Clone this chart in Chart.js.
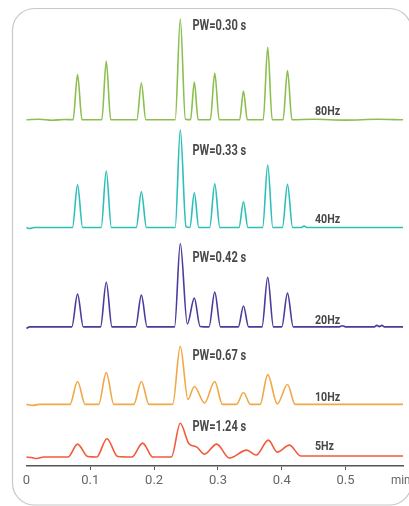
<!DOCTYPE html>
<html>
<head>
<meta charset="utf-8">
<script src="https://cdn.jsdelivr.net/npm/chart.js@4.4.1/dist/chart.umd.min.js"></script>
<style>
  html, body { margin: 0; padding: 0; background: #fff; }
  canvas { display: block; }
</style>
</head>
<body>
<canvas id="cromatograma" width="409" height="506"></canvas>
<script>
    // DADOS - tempo (min) e sinal acima da linha de base
    const freqLabels = ['80Hz', '40Hz', '20Hz', '10Hz', '5Hz']
    const pwLabels = ['PW=0.30 s', 'PW=0.33 s', 'PW=0.42 s', 'PW=0.67 s', 'PW=1.24 s']
    const baselines = [348.5, 240, 140, 62, 9]
    const xTicks = [0, 0.1, 0.2, 0.3, 0.4, 0.5]

    const t80 = [0, 0.02, 0.04, 0.06, 0.073, 0.080, 0.087, 0.118, 0.125, 0.132, 0.173, 0.180, 0.187, 0.233, 0.241, 0.249, 0.257, 0.263, 0.269, 0.288, 0.295, 0.302, 0.334, 0.340, 0.346, 0.371, 0.378, 0.385, 0.402, 0.409, 0.416, 0.45, 0.5, 0.55, 0.59]
    const y80 = [0, 0.5, -0.5, 0.3, 0, 45.5, 0, 0, 59, 0, 0, 37, 0, 0, 101.5, 0.5, 0, 38, 0, 0, 47, 0, 0, 29, 0, 0, 73, 0, 0, 49.5, 0, 0.5, -0.3, 0.5, 0]

    const t40 = [0, 0.005, 0.012, 0.072, 0.080, 0.088, 0.117, 0.125, 0.133, 0.172, 0.180, 0.188, 0.233, 0.241, 0.250, 0.256, 0.263, 0.270, 0.287, 0.295, 0.303, 0.333, 0.340, 0.347, 0.370, 0.378, 0.386, 0.401, 0.409, 0.417, 0.430, 0.435, 0.440, 0.59]
    const y40 = [0, -1, 0, 0, 43, 0, 0, 57, 0, 0, 36, 0, 0, 98.5, 1, 0, 35, 0, 0, 44, 0, 0, 26, 0, 0, 63, 0, 0, 43.5, 0, 0, 1.5, 0, 0]

    const t20 = [0, 0.005, 0.012, 0.071, 0.080, 0.089, 0.116, 0.125, 0.134, 0.171, 0.180, 0.189, 0.232, 0.241, 0.252, 0.263, 0.272, 0.286, 0.295, 0.304, 0.332, 0.340, 0.348, 0.369, 0.378, 0.387, 0.400, 0.409, 0.418, 0.490, 0.495, 0.500, 0.545, 0.549, 0.553, 0.557, 0.561, 0.59]
    const y20 = [-1.5, 0, 0, 0, 33, 0, 0, 45, 0, 0, 32, 0, 0, 84, 3, 29, 0.5, 0, 35, 0, 0, 21, 0, 0, 50, 0, 0, 34, 0, 0, 1.2, 0, 0, 1.5, 0.3, 1.5, 0, 0]

    const t10 = [0, 0.010, 0.020, 0.068, 0.080, 0.092, 0.113, 0.125, 0.137, 0.168, 0.180, 0.192, 0.229, 0.241, 0.253, 0.263, 0.279, 0.295, 0.307, 0.329, 0.340, 0.351, 0.366, 0.378, 0.393, 0.409, 0.421, 0.59]
    const y10 = [0, -1, 0, 0, 23, 0, 0, 32, 0, 0, 23, 0, 0, 58.4, 5, 18, 1.5, 23, 0, 0, 12, 0, 0, 30, 0.5, 20, 0, 0]

    const t5 = [0, 0.008, 0.016, 0.027, 0.065, 0.080, 0.096, 0.110, 0.126, 0.143, 0.165, 0.182, 0.198, 0.227, 0.241, 0.254, 0.267, 0.279, 0.298, 0.318, 0.345, 0.360, 0.379, 0.393, 0.412, 0.430, 0.59]
    const y5 = [0, -0.5, -1.5, 0, 0, 13, 0.5, 0, 18.5, 0.5, 0, 14, 0, 0, 34, 14, 10, 3, 13, -1, 7, 2, 17, 5, 12, 1, 1]

    const tempos = [t80, t40, t20, t10, t5]
    const sinais = [y80, y40, y20, y10, y5]
    const cores = ['#8cbf4f', '#2ebfb8', '#4a3c9c', '#f0a848', '#f25a3c']

    const fonte = "Roboto, 'Liberation Sans', sans-serif"

    var datasets = freqLabels.map(function (nome, i) {
        return {
            label: nome,
            data: tempos[i].map(function (t, j) { return { x: t, y: baselines[i] + sinais[i][j] } }),
            borderColor: cores[i],
            borderWidth: 1.6,
            pointRadius: 0,
            fill: false,
            cubicInterpolationMode: 'monotone',
            clip: false
        }
    })

    // moldura arredondada (lados direito e de baixo ficam fora da imagem)
    const moldura = {
        id: 'moldura',
        beforeDraw: function (chart) {
            const ctx = chart.ctx
            ctx.save()
            ctx.strokeStyle = '#c8c8c8'
            ctx.lineWidth = 1.2
            ctx.beginPath()
            ctx.roundRect(12.5, 8.5, 399, 496.5, 22)
            ctx.stroke()
            ctx.restore()
        }
    }

    // texto condensado (escala horizontal)
    function textoEstreito(ctx, txt, x, y, fator) {
        ctx.save()
        ctx.translate(x, y)
        ctx.scale(fator, 1)
        ctx.fillText(txt, 0, 0)
        ctx.restore()
    }

    // textos PW e frequencia
    const textos = {
        id: 'textos',
        afterDraw: function (chart, args, opts) {
            const ctx = chart.ctx
            const xs = chart.scales.x
            const ys = chart.scales.y
            ctx.save()
            ctx.fillStyle = '#484848'
            ctx.textBaseline = 'middle'
            ctx.textAlign = 'left'
            ctx.font = 'bold 14px ' + fonte
            pwLabels.forEach(function (txt, i) {
                textoEstreito(ctx, txt, xs.getPixelForValue(opts.pwX), ys.getPixelForValue(opts.pwY[i]), 0.79)
            })
            ctx.font = 'bold 13px ' + fonte
            freqLabels.forEach(function (txt, i) {
                textoEstreito(ctx, txt, xs.getPixelForValue(opts.hzX), ys.getPixelForValue(opts.hzY[i]), 0.82)
            })
            ctx.font = '13px ' + fonte
            ctx.fillStyle = '#666'
            textoEstreito(ctx, 'min', xs.getPixelForValue(opts.minX), chart.chartArea.bottom + 15, 0.9)
            ctx.restore()
        }
    }

    var grafico = new Chart(document.getElementById('cromatograma').getContext('2d'), {
        type: 'line',
        data: { datasets: datasets },
        plugins: [moldura, textos],
        options: {
            responsive: false,
            animation: false,
            layout: { padding: { left: 26.5, right: 6, top: 10, bottom: 14.4 } },
            plugins: {
                legend: { display: false },
                tooltip: { enabled: false },
                textos: {
                    pwX: 0.260,
                    pwY: [442.3, 316.7, 209, 110.7, 38.3],
                    hzX: 0.452,
                    hzY: [356.3, 248.3, 146.3, 69, 19],
                    minX: 0.571
                }
            },
            scales: {
                x: {
                    type: 'linear',
                    min: 0,
                    max: 0.59,
                    border: { color: '#555', width: 1.5 },
                    grid: {
                        drawOnChartArea: false,
                        tickLength: 4,
                        color: function (c) { return (c.tick && c.tick.value > 0) ? '#555' : 'rgba(0,0,0,0)' }
                    },
                    afterBuildTicks: function (scale) {
                        scale.ticks = xTicks.map(function (v) { return { value: v } })
                    },
                    ticks: {
                        color: '#666',
                        padding: 3,
                        maxRotation: 0,
                        autoSkip: false,
                        font: { family: fonte, size: 13 },
                        callback: function (v) { return v === 0 ? '0' : v.toFixed(1) }
                    }
                },
                y: {
                    display: false,
                    min: 0,
                    max: 459
                }
            }
        }
    });
</script>
</body>
</html>
